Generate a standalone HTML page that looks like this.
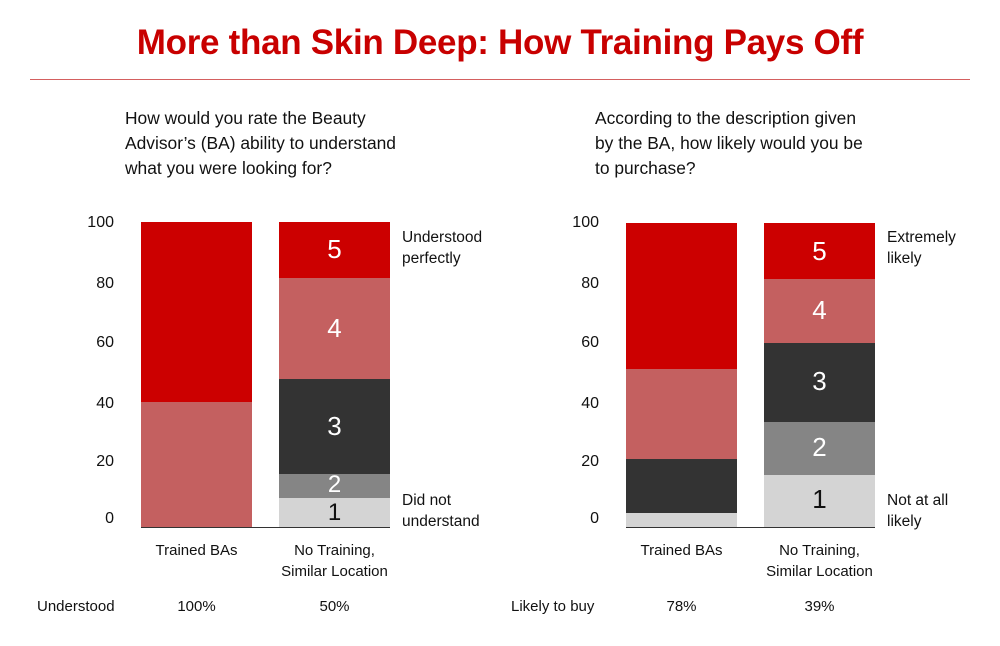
<!DOCTYPE html>
<html><head><style>
body{margin:0;width:1000px;height:646px;background:#fff;font-family:"Liberation Sans",sans-serif;position:relative;overflow:hidden;color:#111}
div{position:absolute}
.t{font-size:17.4px;line-height:25px}
.n{color:#fff;font-size:26px;text-align:center;position:absolute}
.ax{font-size:16px;text-align:right;width:40px}
.c{font-size:15px;text-align:center;line-height:21px}
</style></head><body>
<div style="left:0;width:1000px;top:23px;text-align:center;color:#c80000;font-size:35px;font-weight:bold;letter-spacing:-0.3px">More than Skin Deep: How Training Pays Off</div>
<div style="left:30px;top:79px;width:940px;height:1px;background:#d46060"></div>

<div class="t" style="left:125px;top:106px">How would you rate the Beauty<br>Advisor’s (BA) ability to understand<br>what you were looking for?</div>
<div class="t" style="left:595px;top:106px">According to the description given<br>by the BA, how likely would you be<br>to purchase?</div>

<div class="ax" style="left:74px;top:214px">100</div>
<div class="ax" style="left:74px;top:275px">80</div>
<div class="ax" style="left:74px;top:334px">60</div>
<div class="ax" style="left:74px;top:395px">40</div>
<div class="ax" style="left:74px;top:453px">20</div>
<div class="ax" style="left:74px;top:510px">0</div>
<div style="left:141px;top:222px;width:111px;height:180px;background:#cc0000"></div>
<div style="left:141px;top:402px;width:111px;height:125px;background:#c46060"></div>
<div style="left:279px;top:222px;width:111px;height:56px;background:#cc0000"></div>
<div style="left:279px;top:278px;width:111px;height:101px;background:#c46060"></div>
<div style="left:279px;top:379px;width:111px;height:95px;background:#333"></div>
<div style="left:279px;top:474px;width:111px;height:24px;background:#858585"></div>
<div style="left:279px;top:498px;width:111px;height:29px;background:#d4d4d4"></div>
<div style="left:141px;top:527px;width:249px;height:1px;background:#333"></div>
<div class="n" style="left:279px;width:111px;top:234px">5</div>
<div class="n" style="left:279px;width:111px;top:313px">4</div>
<div class="n" style="left:279px;width:111px;top:411px">3</div>
<div class="n" style="left:279px;width:111px;top:471px;font-size:24px">2</div>
<div class="n" style="left:279px;width:111px;top:499px;color:#111;font-size:24px">1</div>
<div style="left:402px;top:227px;line-height:21px;font-size:15.5px">Understood<br>perfectly</div>
<div style="left:402px;top:490px;line-height:21px;font-size:15.5px">Did not<br>understand</div>
<div class="c" style="left:136px;width:121px;top:540px">Trained BAs</div>
<div class="c" style="left:264px;width:141px;top:540px">No Training,<br>Similar Location</div>

<div class="ax" style="left:559px;top:214px">100</div>
<div class="ax" style="left:559px;top:275px">80</div>
<div class="ax" style="left:559px;top:334px">60</div>
<div class="ax" style="left:559px;top:395px">40</div>
<div class="ax" style="left:559px;top:453px">20</div>
<div class="ax" style="left:559px;top:510px">0</div>
<div style="left:626px;top:223px;width:111px;height:146px;background:#cc0000"></div>
<div style="left:626px;top:369px;width:111px;height:90px;background:#c46060"></div>
<div style="left:626px;top:459px;width:111px;height:54px;background:#333"></div>
<div style="left:626px;top:513px;width:111px;height:14px;background:#d4d4d4"></div>
<div style="left:764px;top:223px;width:111px;height:56px;background:#cc0000"></div>
<div style="left:764px;top:279px;width:111px;height:64px;background:#c46060"></div>
<div style="left:764px;top:343px;width:111px;height:79px;background:#333"></div>
<div style="left:764px;top:422px;width:111px;height:53px;background:#858585"></div>
<div style="left:764px;top:475px;width:111px;height:52px;background:#d4d4d4"></div>
<div style="left:626px;top:527px;width:249px;height:1px;background:#333"></div>
<div class="n" style="left:764px;width:111px;top:236px">5</div>
<div class="n" style="left:764px;width:111px;top:295px">4</div>
<div class="n" style="left:764px;width:111px;top:366px">3</div>
<div class="n" style="left:764px;width:111px;top:432px">2</div>
<div class="n" style="left:764px;width:111px;top:484px;color:#111">1</div>
<div style="left:887px;top:227px;line-height:21px;font-size:15.5px">Extremely<br>likely</div>
<div style="left:887px;top:490px;line-height:21px;font-size:15.5px">Not at all<br>likely</div>
<div class="c" style="left:621px;width:121px;top:540px">Trained BAs</div>
<div class="c" style="left:749px;width:141px;top:540px">No Training,<br>Similar Location</div>

<div class="c" style="left:37px;width:100px;top:596px;text-align:left">Understood</div>
<div class="c" style="left:136px;width:121px;top:596px">100%</div>
<div class="c" style="left:264px;width:141px;top:596px">50%</div>
<div class="c" style="left:511px;width:120px;top:596px;text-align:left">Likely to buy</div>
<div class="c" style="left:621px;width:121px;top:596px">78%</div>
<div class="c" style="left:749px;width:141px;top:596px">39%</div>
</body></html>
